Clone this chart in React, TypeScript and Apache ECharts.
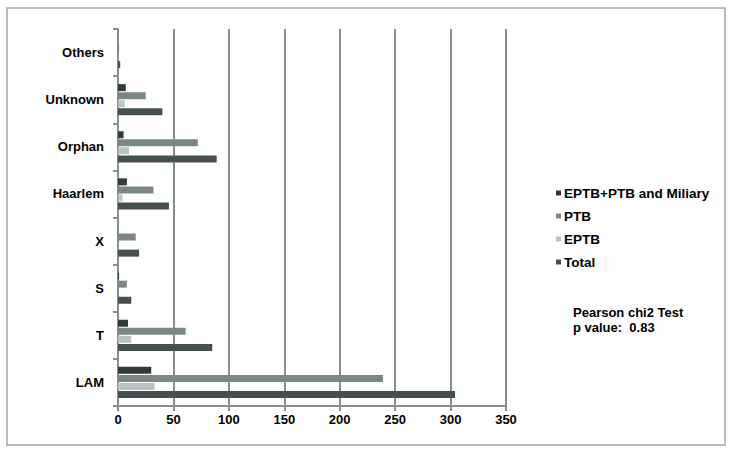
import React, { useEffect, useRef } from "react";
import * as echarts from "echarts";

const categories = ["LAM", "T", "S", "X", "Haarlem", "Orphan", "Unknown", "Others"];
const totalValues = [304, 85, 12, 19, 46, 89, 40, 2];
const eptbValues = [33, 12, 0, 0, 4, 10, 6, 0];
const ptbValues = [239, 61, 8, 16, 32, 72, 25, 1];
const mixedValues = [30, 9, 1, 0, 8, 5, 7, 0];
const xTicks = [0, 50, 100, 150, 200, 250, 300, 350];
const legendNames = ["EPTB+PTB and Miliary", "PTB", "EPTB", "Total"];
const noteLines = ["Pearson chi2 Test", "p value:  0.83"];

const FONT = "'Liberation Sans', Arial, sans-serif";
const AXIS_COLOR = "#849090";

export default function App() {
  const ref = useRef<HTMLDivElement>(null);
  useEffect(() => {
    document.body.style.margin = "0";
    const chart = echarts.init(ref.current!, null, { renderer: "svg" });
    const barBase = { type: "bar" as const, barWidth: 7, barGap: "15%" };
    chart.setOption({
      animation: false,
      backgroundColor: "#ffffff",
      grid: { left: 118, right: 228, top: 29, bottom: 48, containLabel: false },
      xAxis: {
        type: "value",
        min: xTicks[0],
        max: xTicks[xTicks.length - 1],
        interval: 50,
        axisLine: { show: true, lineStyle: { color: AXIS_COLOR, width: 2 } },
        axisTick: { show: true, length: 5, lineStyle: { color: AXIS_COLOR, width: 2 } },
        splitLine: { show: true, lineStyle: { color: AXIS_COLOR, width: 2 } },
        axisLabel: { color: "#000", fontWeight: "bold", fontSize: 13, fontFamily: FONT, margin: 7 },
      },
      yAxis: {
        type: "category",
        data: categories,
        axisLine: { show: true, lineStyle: { color: AXIS_COLOR, width: 2 } },
        axisTick: { show: true, length: 5, lineStyle: { color: AXIS_COLOR, width: 2 } },
        axisLabel: { color: "#000", fontWeight: "bold", fontSize: 13, fontFamily: FONT, margin: 14 },
      },
      legend: {
        orient: "vertical",
        left: 556,
        top: 186,
        padding: 0,
        itemWidth: 5,
        itemHeight: 5,
        itemGap: 9,
        icon: "rect",
        data: legendNames,
        textStyle: { color: "#000", fontWeight: "bold", fontSize: 13.5, fontFamily: FONT, padding: [0, 0, 0, -2] },
      },
      graphic: [
        {
          type: "rect",
          shape: { x: 7, y: 8, width: 718, height: 437 },
          style: { fill: "none", stroke: "#a3abab", lineWidth: 1.5 },
          silent: true,
        },
        {
          type: "text",
          left: 573,
          top: 305,
          style: {
            text: noteLines.join("\n"),
            fill: "#000",
            font: `bold 13px ${FONT}`,
            lineHeight: 15,
          },
        },
      ],
      series: [
        { ...barBase, name: "EPTB+PTB and Miliary", data: mixedValues, itemStyle: { color: "#333a3a" } },
        { ...barBase, name: "PTB", data: ptbValues, itemStyle: { color: "#7b8686" } },
        { ...barBase, name: "EPTB", data: eptbValues, itemStyle: { color: "#b9c3c3" } },
        { ...barBase, name: "Total", data: totalValues, itemStyle: { color: "#465050" } },
      ],
    });
    return () => chart.dispose();
  }, []);
  return <div ref={ref} style={{ width: 734, height: 454 }} />;
}
